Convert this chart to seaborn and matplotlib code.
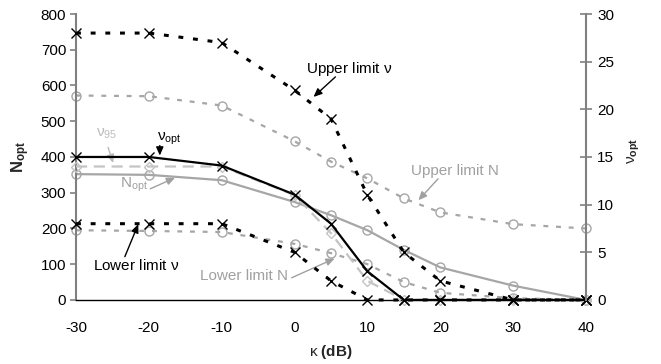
import matplotlib
matplotlib.use("Agg")
import matplotlib.pyplot as plt
import seaborn as sns
import numpy as np
import pandas as pd

# ---- data ----
kappa = [-30, -20, -10, 0, 5, 10, 15, 20, 30, 40]
n_opt = [352, 350, 335, 274, 237, 195, 140, 91, 40, 0]
upper_n = [572, 570, 544, 444, 387, 340, 284, 245, 212, 200]
lower_n = [195, 193, 190, 157, 131, 100, 50, 20, 5, 0]
nu_opt = [15, 15, 14.1, 11.05, 8.0, 3.0, 0, 0, 0, 0]
upper_nu = [28, 28, 27, 22, 19, 11, 5, 2, 0, 0]
lower_nu = [8, 8, 8, 5, 2, 0, 0, 0, 0, 0]
nu_95 = [14, 14, 14, 11, 7, 2, 0, 0, 0, 0]

x_ticks = [-30, -20, -10, 0, 10, 20, 30, 40]
n_ticks = [0, 100, 200, 300, 400, 500, 600, 700, 800]
nu_ticks = [0, 5, 10, 15, 20, 25, 30]

sns.set_style("white")
plt.rcParams["font.family"] = ["Liberation Sans", "DejaVu Sans"]
plt.rcParams["mathtext.fontset"] = "custom"
plt.rcParams["mathtext.rm"] = "Liberation Sans"
plt.rcParams["mathtext.it"] = "Liberation Sans:italic"
plt.rcParams["mathtext.bf"] = "Liberation Sans:bold"
plt.rcParams["text.color"] = "black"
plt.rcParams["xtick.color"] = "black"
plt.rcParams["ytick.color"] = "black"

fig = plt.figure(figsize=(6.61, 3.64), dpi=100)
ax = fig.add_axes([0.115, 0.176, 0.7715, 0.7855])
ax2 = ax.twinx()

GRAY = "#a6a6a6"
LGRAY = "#c4c4c4"

def draw(axis, y, color, ls, marker, ms, lw, mfc=None, mew=1.0):
    sns.lineplot(x=kappa, y=y, ax=axis, color=color, linestyle=ls, linewidth=lw,
                 marker=marker, markersize=ms,
                 markerfacecolor=(mfc if mfc is not None else color),
                 markeredgecolor=color, markeredgewidth=mew,
                 estimator=None, sort=False, clip_on=False)

# N series (left axis)
draw(ax, upper_n, GRAY, (0, (2.2, 3.5)), "o", 6.5, 1.6, mfc="none")
draw(ax, lower_n, GRAY, (0, (2.2, 3.5)), "o", 6.5, 1.6, mfc="none")
draw(ax, n_opt, GRAY, "-", "o", 6.5, 1.6, mfc="none")

# nu series (right axis)
draw(ax2, nu_95, LGRAY, (0, (5, 3)), "D", 5, 1.6, mfc="none")
draw(ax2, upper_nu, "black", (0, (1.6, 3.2)), "x", 7, 2.2, mew=1.0)
draw(ax2, lower_nu, "black", (0, (1.6, 3.2)), "x", 7, 2.2, mew=1.0)
draw(ax2, nu_opt, "black", "-", "x", 7, 1.6, mew=1.0)

ax.set_xlim(-30, 40)
ax.set_ylim(0, 800)
ax2.set_ylim(0, 30)
ax.set_xticks(x_ticks)
ax.set_xticklabels([str(v) for v in x_ticks], fontsize=11)
ax.set_yticks(n_ticks)
ax.set_yticklabels([str(v) for v in n_ticks], fontsize=11)
ax2.set_yticks(nu_ticks)
ax2.set_yticklabels([str(v) for v in nu_ticks], fontsize=11)

for s in ["top", "right"]:
    ax.spines[s].set_visible(False)
for s in ["top", "left", "bottom"]:
    ax2.spines[s].set_visible(False)
ax.spines["left"].set_color("#808080")
ax.spines["left"].set_linewidth(1.5)
ax.spines["bottom"].set_color("black")
ax.spines["bottom"].set_linewidth(1.0)
ax2.spines["right"].set_color("#808080")
ax2.spines["right"].set_linewidth(1.5)

ax.tick_params(axis="y", direction="out", length=4, width=1.2, color="#808080",
               labelcolor="black", pad=3)
ax.tick_params(axis="x", direction="out", length=4, width=1.0, color="black",
               labelcolor="black", pad=11)
ax2.tick_params(axis="y", direction="inout", length=8, width=1.2, color="#808080",
                labelcolor="black", pad=4)

ax.set_xlabel(r"$\mathrm{κ}$ (dB)", fontsize=11, fontweight="bold", labelpad=6)
ax.set_ylabel(r"$\mathbf{N}_{\mathbf{opt}}$", fontsize=12, labelpad=6)
ax2.set_ylabel(r"$\mathrm{ν}_{\mathbf{opt}}$", fontsize=11, rotation=90,
               va="center", ha="center")
ax2.yaxis.set_label_coords(1.094, 0.52)

def note(text, xy_text, xy_head, xy_tail, color, fs=11):
    ax.text(xy_text[0], xy_text[1], text, color=color, fontsize=fs,
            ha="left", va="center", zorder=10)
    ax.annotate("", xy=xy_head, xytext=xy_tail,
                arrowprops=dict(arrowstyle="-|>,head_length=0.5,head_width=0.22",
                                color=color, lw=1.0, shrinkA=0, shrinkB=0),
                zorder=10)

note(r"Upper limit $\mathrm{ν}$", (1.6, 647), (2.6, 568), (5.6, 624), "black")
note("Upper limit N", (16.0, 360), (17.0, 279), (19.7, 339), "#a0a0a0")
note(r"$\mathrm{ν}_{\mathrm{95}}$", (-27.2, 465), (-24.9, 383), (-25.6, 427), "#bbbbbb")
note(r"$\mathrm{ν}_{\mathrm{opt}}$", (-18.9, 452), (-18.5, 404), (-18.5, 432), "black")
note(r"$\mathrm{N}_{\mathrm{opt}}$", (-24.0, 322), (-16.4, 342), (-19.8, 311), "#a0a0a0")
note(r"Lower limit $\mathrm{ν}$", (-27.6, 97), (-21.45, 212), (-23.3, 121), "black")
note("Lower limit N", (-13.0, 68), (5.5, 116), (-0.4, 62), "#a0a0a0")

fig.savefig("out.png", dpi=100)
